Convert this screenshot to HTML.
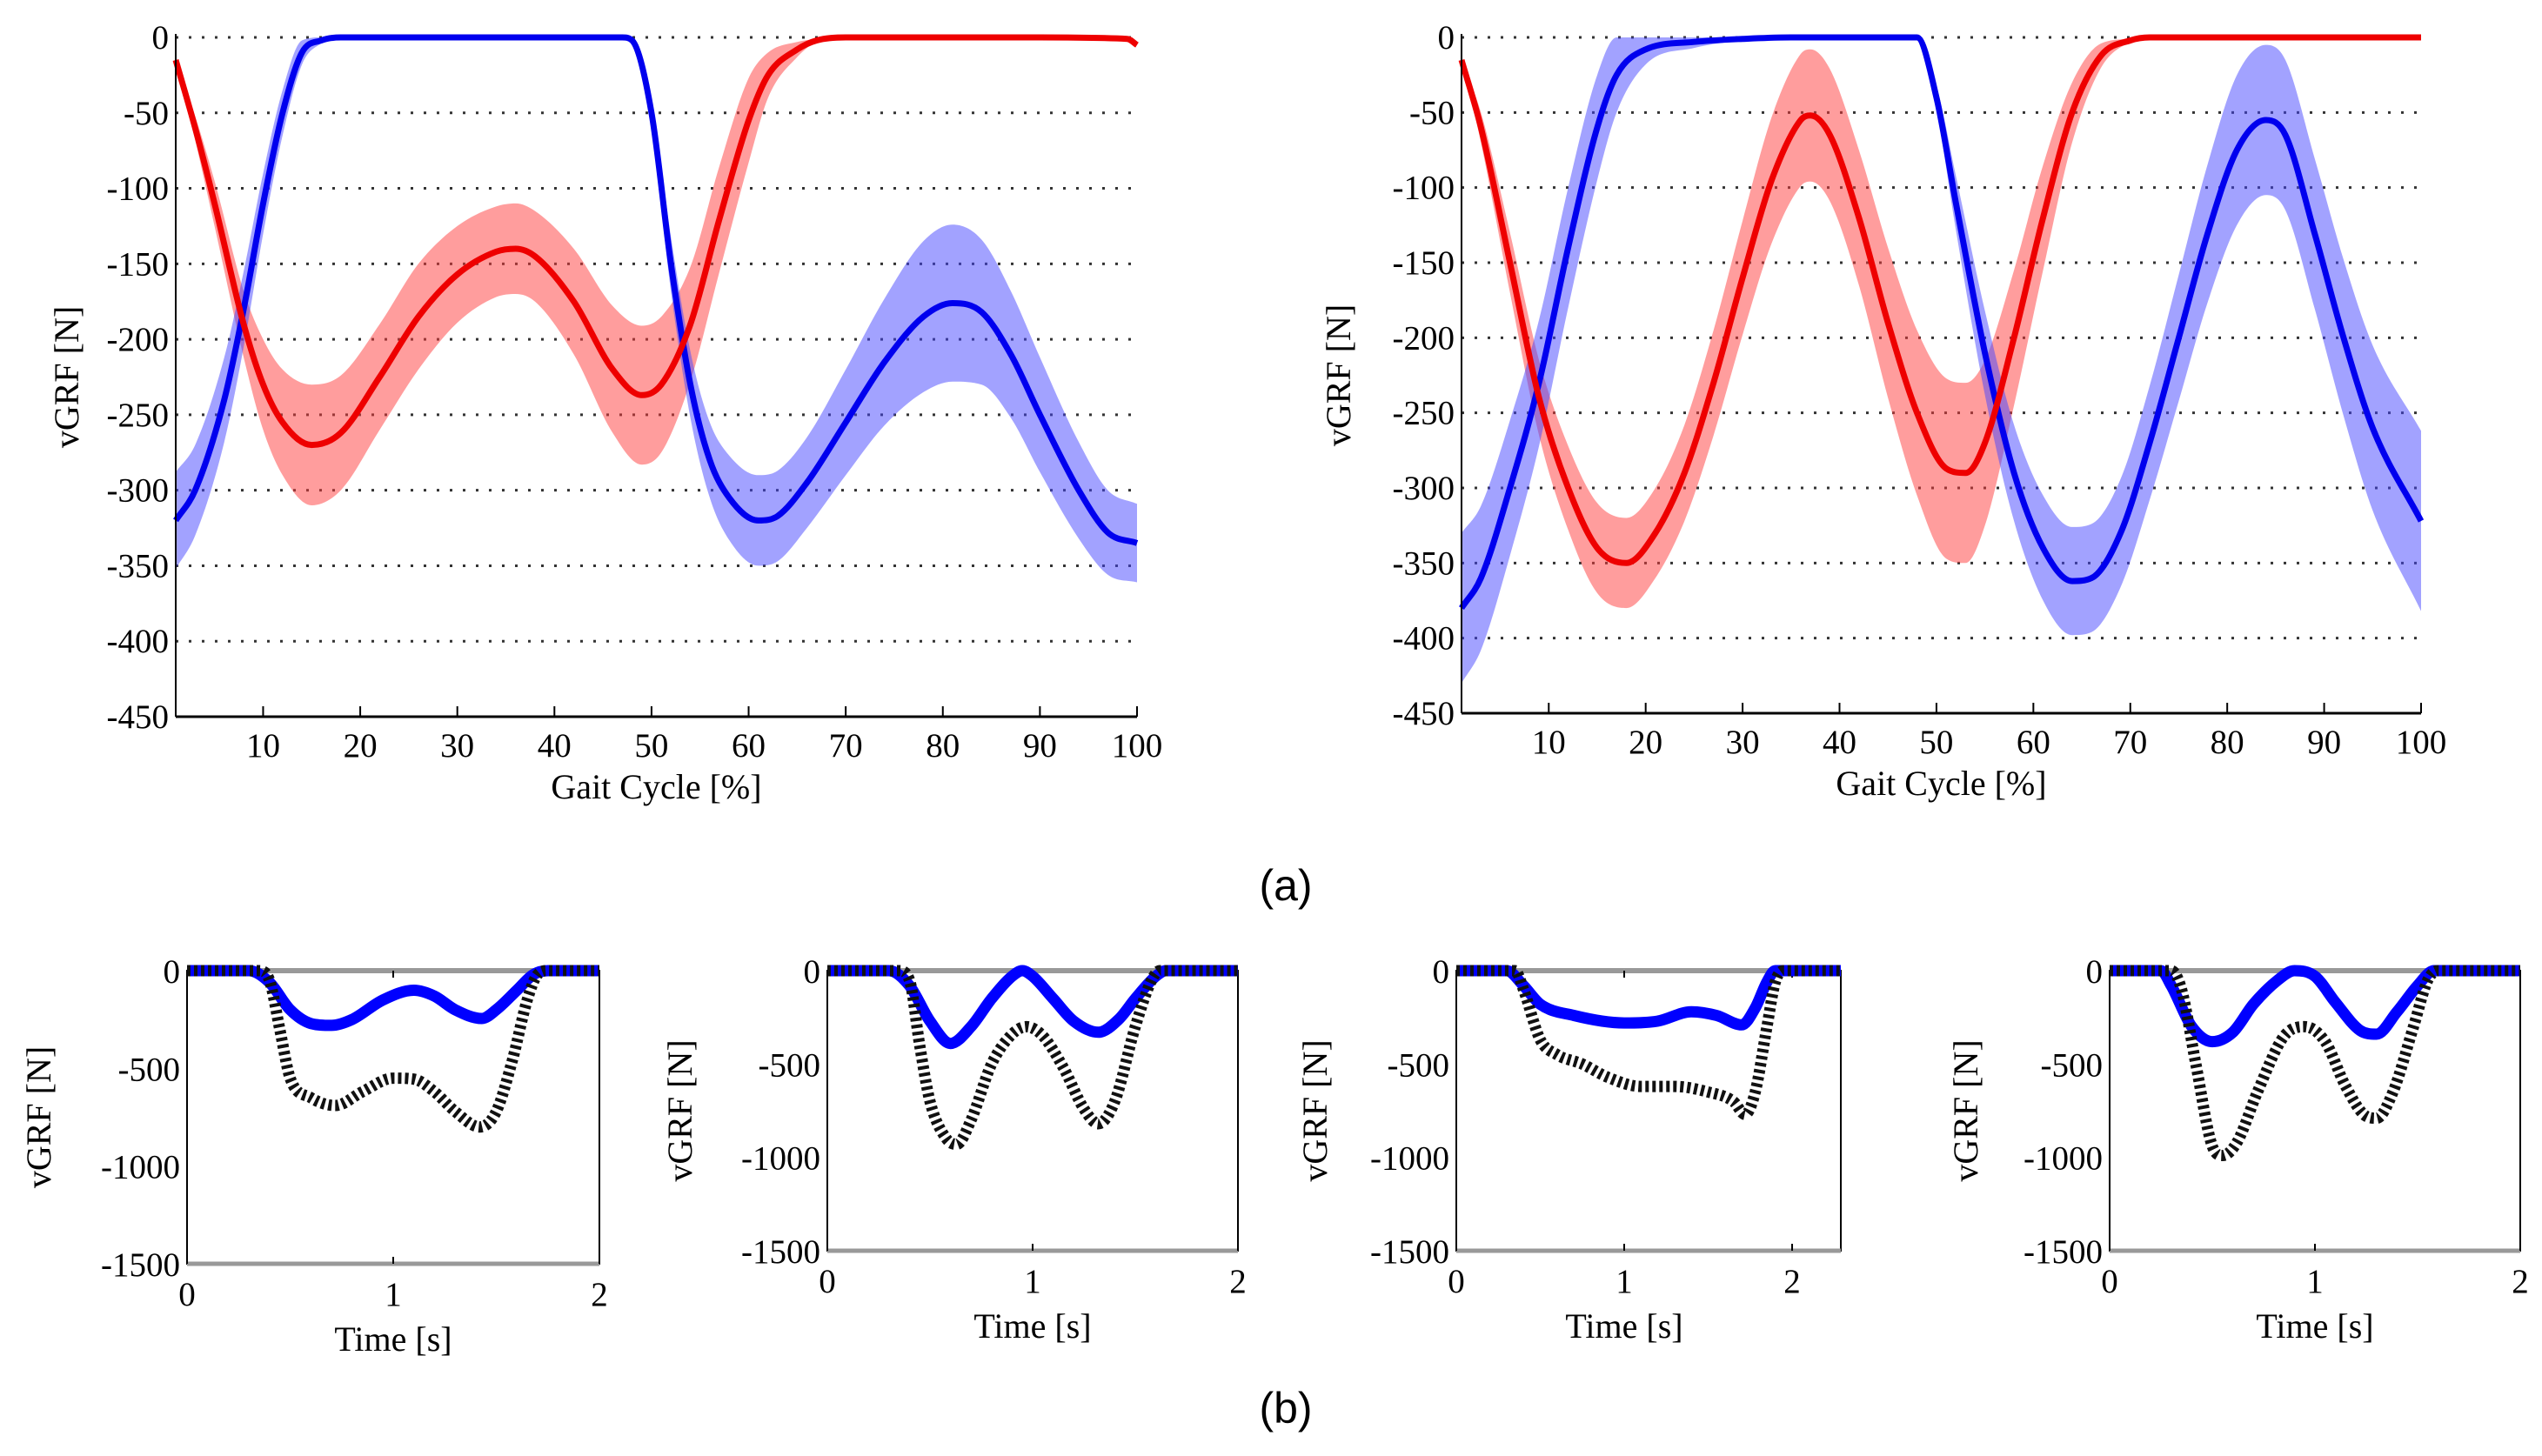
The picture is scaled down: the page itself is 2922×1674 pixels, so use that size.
<!DOCTYPE html>
<html><head><meta charset="utf-8"><style>
html,body{margin:0;padding:0;background:#fff;}
svg{display:block;font-family:"Liberation Serif",serif;}
.tk{font-size:39px;fill:#000;}
.lab{font-size:40px;fill:#000;}
</style></head><body>
<svg id="fig" width="2922" height="1674" viewBox="0 0 2922 1674" xmlns="http://www.w3.org/2000/svg">
<text x="1478" y="1035" font-family="Liberation Sans, sans-serif" font-size="50" text-anchor="middle">(a)</text>
<text x="1478" y="1636" font-family="Liberation Sans, sans-serif" font-size="50" text-anchor="middle">(b)</text>
</svg>
<script>
// ---- Panel (a) chart 1 data ----
const a1RedX   = [1,3,5,8,10,12,15,18,22,26,30,34,36,38,42,46,49,51,54,57,60,62,65,67,70,80,90,99,100];
const a1Red    = [-15,-60,-110,-190,-230,-255,-270,-262,-225,-185,-157,-142,-140,-145,-175,-220,-237,-230,-190,-120,-55,-25,-8,-2,0,0,0,-1,-5];
const a1RedSd  = [0,8,15,22,30,35,40,38,35,35,32,30,30,30,35,42,46,45,38,35,28,15,5,1,0,0,0,0,0];
const a1BlueX  = [1,3,6,8,10,12,14,16,18,30,47,48,50,52,54,56,58,61,63,66,70,74,78,81,84,87,90,94,97,100];
const a1Blue   = [-320,-300,-240,-180,-110,-50,-10,-2,0,0,0,-2,-50,-150,-230,-280,-305,-320,-317,-295,-255,-215,-185,-176,-182,-210,-250,-300,-328,-335];
const a1BlueSd = [32,30,28,25,20,15,8,2,0,0,0,2,10,18,22,25,28,30,30,30,35,42,50,52,48,42,38,32,28,26];
// ---- Panel (a) chart 2 data ----
const a2RedX   = [1,3,6,9,12,15,18,21,24,27,30,33,36,37,39,42,45,48,51,53,55,58,61,64,67,70,72,100];
const a2Red    = [-15,-60,-150,-240,-300,-340,-350,-330,-290,-230,-160,-95,-55,-52,-65,-120,-190,-250,-287,-290,-270,-200,-120,-50,-12,-2,0,0];
const a2RedSd  = [0,10,20,25,28,30,30,30,32,35,38,42,44,44,44,45,50,55,60,60,55,45,35,20,8,1,0,0];
const a2BlueX  = [1,3,6,9,12,15,17,20,25,30,35,48,50,52,55,58,61,64,66,69,72,75,78,81,84,86,89,92,95,100];
const a2Blue   = [-380,-360,-300,-230,-140,-60,-25,-8,-3,-1,0,0,-40,-110,-210,-290,-340,-362,-360,-330,-270,-200,-130,-75,-55,-65,-130,-200,-260,-322];
const a2BlueSd = [50,48,45,42,40,35,25,10,4,1,0,0,8,18,28,32,35,36,36,36,38,42,46,50,50,50,50,52,55,60];
// ---- Panel (b) data ----
const b1BlackT = [0,0.35,0.4,0.45,0.5,0.6,0.72,0.85,1.0,1.1,1.2,1.3,1.42,1.5,1.58,1.65,1.7,1.75,2];
const b1Black  = [0,0,-50,-300,-550,-650,-690,-620,-550,-555,-620,-720,-800,-720,-450,-150,-20,0,0];
const b1BlueT  = [0,0.3,0.4,0.5,0.6,0.7,0.8,0.95,1.1,1.2,1.3,1.43,1.5,1.6,1.68,1.75,2];
const b1Blue   = [0,0,-60,-200,-270,-280,-250,-150,-100,-130,-200,-245,-200,-100,-20,0,0];
const b2BlackT = [0,0.35,0.4,0.45,0.5,0.58,0.63,0.7,0.8,0.9,0.97,1.05,1.15,1.25,1.32,1.4,1.5,1.58,1.62,2];
const b2Black  = [0,0,-50,-400,-700,-900,-930,-800,-500,-340,-300,-350,-520,-740,-820,-700,-300,-50,0,0];
const b2BlueT  = [0,0.3,0.4,0.5,0.6,0.7,0.8,0.9,0.95,1.0,1.1,1.2,1.32,1.42,1.5,1.6,1.65,2];
const b2Blue   = [0,0,-80,-270,-390,-300,-150,-30,0,-30,-150,-270,-330,-260,-150,-30,0,0];
const b3BlackT = [0,0.35,0.4,0.5,0.6,0.75,0.9,1.1,1.3,1.5,1.65,1.72,1.78,1.85,1.9,1.95,2.29];
const b3Black  = [0,0,-100,-370,-450,-500,-570,-620,-620,-650,-700,-770,-650,-300,-60,0,0];
const b3BlueT  = [0,0.3,0.4,0.5,0.7,1.0,1.2,1.4,1.55,1.7,1.78,1.85,1.9,2.29];
const b3Blue   = [0,0,-80,-180,-240,-280,-270,-220,-240,-290,-200,-60,0,0];
const b4BlackT = [0,0.3,0.35,0.42,0.5,0.55,0.62,0.72,0.85,0.95,1.05,1.15,1.25,1.3,1.38,1.48,1.55,1.6,2];
const b4Black  = [0,0,-100,-500,-940,-990,-920,-650,-350,-300,-380,-620,-780,-790,-650,-300,-50,0,0];
const b4BlueT  = [0,0.25,0.3,0.4,0.5,0.6,0.7,0.82,0.9,1.0,1.1,1.22,1.3,1.4,1.5,1.58,2];
const b4Blue   = [0,0,-80,-300,-380,-330,-180,-50,0,-30,-170,-320,-340,-220,-80,0,0];
const aYTicks = [0,-50,-100,-150,-200,-250,-300,-350,-400,-450];
const aXTicks = [10,20,30,40,50,60,70,80,90,100];
const bYTicks = [0,-500,-1000,-1500];
const bXTicks = [0,1,2];

const NS='http://www.w3.org/2000/svg';
const svg=document.getElementById('fig');
function mk(tag,attrs,parent){const e=document.createElementNS(NS,tag);for(const k in attrs)e.setAttribute(k,attrs[k]);(parent||svg).appendChild(e);return e;}
// monotone cubic (Fritsch-Carlson) path, no overshoot
function smooth(pts){
  const n=pts.length;
  const d=[],m=new Array(n);
  for(let i=0;i<n-1;i++){const dx=pts[i+1][0]-pts[i][0];d.push(dx===0?0:(pts[i+1][1]-pts[i][1])/dx);}
  m[0]=d[0];m[n-1]=d[n-2];
  for(let i=1;i<n-1;i++){m[i]=(d[i-1]*d[i]<=0)?0:(d[i-1]+d[i])/2;}
  for(let i=0;i<n-1;i++){
    if(d[i]===0){m[i]=0;m[i+1]=0;continue;}
    const a=m[i]/d[i],b=m[i+1]/d[i],s=a*a+b*b;
    if(s>9){const t=3/Math.sqrt(s);m[i]=t*a*d[i];m[i+1]=t*b*d[i];}
  }
  let p='M'+pts[0][0].toFixed(1)+','+pts[0][1].toFixed(1);
  for(let i=0;i<n-1;i++){
    const dx=(pts[i+1][0]-pts[i][0])/3;
    p+=' C'+(pts[i][0]+dx).toFixed(1)+','+(pts[i][1]+m[i]*dx).toFixed(1)+' '+(pts[i+1][0]-dx).toFixed(1)+','+(pts[i+1][1]-m[i+1]*dx).toFixed(1)+' '+pts[i+1][0].toFixed(1)+','+pts[i+1][1].toFixed(1);
  }
  return p;
}
function clampY(v,lo,hi){return Math.max(lo,Math.min(hi,v));}

function chartA(name,L,R,T,B,redX,red,redSd,blueX,blue,blueSd,labX){
  const g=mk('g',{});
  
  
  const sx=v=>L+(v-1)/99*(R-L), sy=v=>T+(0-v)/450*(B-T);
  aYTicks.forEach(t=>{
    if(t!==-450){const l=mk('line',{x1:L,x2:R,y1:sy(t),y2:sy(t),stroke:'#333','stroke-width':3,'stroke-dasharray':'3 12'},g);
    
    }
    const tx=mk('text',{x:L-8,y:sy(t)+13,class:'tk','text-anchor':'end'},g);tx.textContent=t;
    
    
  });
  aXTicks.forEach(t=>{
    mk('line',{x1:sx(t),x2:sx(t),y1:B,y2:B-12,stroke:'#000','stroke-width':2},g);
    const tx=mk('text',{x:sx(t),y:B+46,class:'tk','text-anchor':'middle'},g);tx.textContent=t;
    
    
  });
  function band(xs,m,sd,fill,nm){
    const up=xs.map((x,i)=>[sx(x),clampY(sy(m[i]+sd[i]),T,B)]);
    const lo=xs.map((x,i)=>[sx(x),clampY(sy(m[i]-sd[i]),T,B)]).reverse();
    const d=smooth(up)+' L'+smooth(lo).slice(1)+' Z';
    const p=mk('path',{d:d,fill:fill,stroke:'none'},g);
    
    
  }
  function line(xs,m,col,nm){
    const p=mk('path',{d:smooth(xs.map((x,i)=>[sx(x),sy(m[i])])),fill:'none',stroke:col,'stroke-width':7,'stroke-linejoin':'round'},g);
    
    
  }
  band(redX,red,redSd,'rgba(255,60,60,0.5)','red-sd-band');
  band(blueX,blue,blueSd,'rgba(70,70,255,0.5)','blue-sd-band');
  line(blueX,blue,'#0000ee','blue-mean-line');
  line(redX,red,'#ee0000','red-mean-line');
  mk('line',{x1:L,x2:L,y1:T-4,y2:B,stroke:'#000','stroke-width':2},g);
  mk('line',{x1:L,x2:R,y1:B,y2:B,stroke:'#000','stroke-width':3},g);
  const yl=mk('text',{x:labX,y:(T+B)/2,class:'lab','text-anchor':'middle',transform:'rotate(-90 '+labX+' '+(T+B)/2+')'},g);yl.textContent='vGRF [N]';
  
  
  const xl=mk('text',{x:(L+R)/2,y:B+94,class:'lab','text-anchor':'middle'},g);xl.textContent='Gait Cycle [%]';
  
  
}
chartA('chart-a-left',202,1307,43,824,a1RedX,a1Red,a1RedSd,a1BlueX,a1Blue,a1BlueSd,90);
chartA('chart-a-right',1680,2783,43,820,a2RedX,a2Red,a2RedSd,a2BlueX,a2Blue,a2BlueSd,1552);

function chartB(name,L,R,T,B,xmax,bT,bV,uT,uV,labX,titleY){
  const g=mk('g',{});
  
  
  const sx=v=>L+v/xmax*(R-L), sy=v=>T+(0-v)/1500*(B-T);
  mk('rect',{x:L,y:T,width:R-L,height:B-T,fill:'none',stroke:'#000','stroke-width':2},g);
  mk('line',{x1:L,x2:R,y1:T,y2:T,stroke:'#999','stroke-width':6},g);
  mk('line',{x1:L,x2:R,y1:B,y2:B,stroke:'#999','stroke-width':5},g);
  bYTicks.forEach(t=>{
    const tx=mk('text',{x:L-8,y:sy(t)+14,class:'tk','text-anchor':'end'},g);tx.textContent=t;
    
    
  });
  bXTicks.forEach(t=>{
    mk('line',{x1:sx(t),x2:sx(t),y1:B,y2:B-8,stroke:'#000','stroke-width':2},g);
    mk('line',{x1:sx(t),x2:sx(t),y1:T,y2:T+8,stroke:'#000','stroke-width':2},g);
    const tx=mk('text',{x:sx(t),y:B+48,class:'tk','text-anchor':'middle'},g);tx.textContent=t;
    
    
  });
  const bl=mk('path',{d:smooth(uT.map((x,i)=>[sx(x),sy(uV[i])])),fill:'none',stroke:'#0000ff','stroke-width':13,'stroke-linejoin':'round'},g);
  
  
  const kl=mk('path',{d:smooth(bT.map((x,i)=>[sx(x),sy(bV[i])])),fill:'none',stroke:'#111','stroke-width':13,'stroke-dasharray':'4 4'},g);
  
  
  const yl=mk('text',{x:labX,y:(T+B)/2,class:'lab','text-anchor':'middle',transform:'rotate(-90 '+labX+' '+(T+B)/2+')'},g);yl.textContent='vGRF [N]';
  
  
  const xl=mk('text',{x:(sx(0)+sx(2))/2,y:titleY,class:'lab','text-anchor':'middle'},g);xl.textContent='Time [s]';
  
  
}
chartB('chart-b1',215,689,1116,1453,2,b1BlackT,b1Black,b1BlueT,b1Blue,58,1553);
chartB('chart-b2',951,1423,1116,1438,2,b2BlackT,b2Black,b2BlueT,b2Blue,795,1538);
chartB('chart-b3',1674,2116,1116,1438,2.29,b3BlackT,b3Black,b3BlueT,b3Blue,1525,1538);
chartB('chart-b4',2425,2897,1116,1438,2,b4BlackT,b4Black,b4BlueT,b4Blue,2273,1538);
</script>
</body></html>
